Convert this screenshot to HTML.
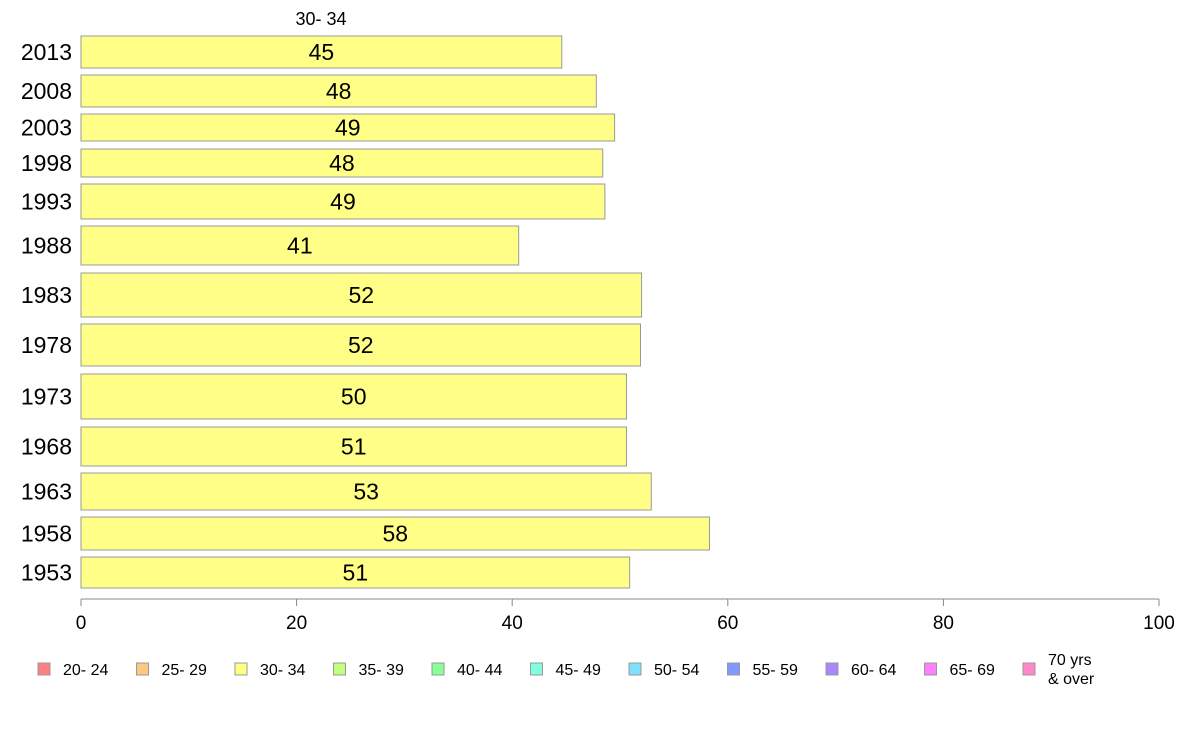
<!DOCTYPE html>
<html><head><meta charset="utf-8"><style>
body{margin:0;background:#fff;font-family:"Liberation Sans",sans-serif}
svg text{font-family:"Liberation Sans",sans-serif}
</style></head><body>
<svg id="c" width="1188" height="736"></svg>
<script>
const years=["2013","2008","2003","1998","1993","1988","1983","1978","1973","1968","1963","1958","1953"];
const values=[44.6,47.8,49.5,48.4,48.6,40.6,52.0,51.9,50.6,50.6,52.9,58.3,50.9];
const valueLabels=["45","48","49","48","49","41","52","52","50","51","53","58","51"];
const ticks=[0,20,40,60,80,100];
const legendLabels=["20- 24","25- 29","30- 34","35- 39","40- 44","45- 49","50- 54","55- 59","60- 64","65- 69","70 yrs|& over"];
const legendColors=["#ff8080","#ffc880","#ffff80","#c0ff80","#88ff98","#80ffe0","#80e0ff","#8098ff","#a888ff","#ff80ff","#ff88c8"];
const bands=[[36,68],[75,107],[114,141],[149,177],[184,219],[226,265],[273,317],[324,366],[374,419],[427,466],[473,510],[517,550],[557,588]];
const svg=document.getElementById('c');const NS="http://www.w3.org/2000/svg";
function x(v){return 81+v*10.78;}
function mk(t,a,txt){const e=document.createElementNS(NS,t);for(const k in a)e.setAttribute(k,a[k]);if(txt!=null)e.textContent=txt;svg.appendChild(e);return e;}
let t=mk('text',{x:321,y:25,'font-size':18,'text-anchor':'middle'},'30- 34');


years.forEach((y,i)=>{const [a,b]=bands[i];
 let r=mk('rect',{x:x(0),y:a,width:x(values[i])-x(0),height:b-a,fill:'#ffff88',stroke:'#999','stroke-width':1});
 
 
 let l=mk('text',{x:(x(0)+x(values[i]))/2,y:(a+b)/2+8,'font-size':23,'text-anchor':'middle'},valueLabels[i]);
 
 
 let yl=mk('text',{x:72,y:(a+b)/2+8,'font-size':23,'text-anchor':'end'},y);
 
 
});
let ax=mk('line',{x1:x(0),x2:x(100),y1:599,y2:599,stroke:'#888'});


ticks.forEach(v=>{let tk=mk('line',{x1:x(v),x2:x(v),y1:599,y2:606,stroke:'#888'});
 
 
 let tl=mk('text',{x:x(v),y:629,'font-size':19,'text-anchor':'middle'},String(v));
 
 });
legendLabels.forEach((lab,i)=>{const lx=38+i*98.5;
 let s=mk('rect',{x:lx,y:663,width:12,height:12,fill:legendColors[i],stroke:'#999'});
 
 
 const parts=lab.split('|');
 let tx=mk('text',{x:lx+25,y:parts.length>1?665:675,'font-size':16});
 
 
 parts.forEach((p,j)=>{const ts=document.createElementNS(NS,'tspan');ts.setAttribute('x',lx+25);ts.setAttribute('dy',j?19:0);ts.textContent=p;tx.appendChild(ts);});
});
</script>
</body></html>
